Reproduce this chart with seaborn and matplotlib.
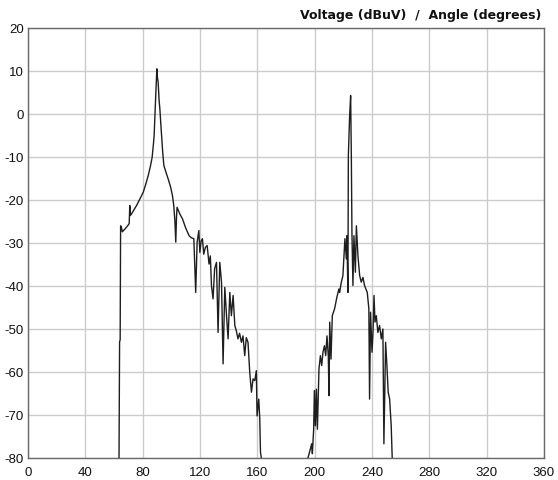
import matplotlib
matplotlib.use("Agg")
import matplotlib.pyplot as plt
import seaborn as sns
import pandas as pd

angle_deg = [63.5, 63.9, 64.3, 64.6, 65.3, 65.8, 67.5, 69.5, 70.6, 71.0, 71.5, 73.0, 75.7, 78.0,
             80.4, 82.0, 83.9, 85.5, 86.6, 87.5, 88.0, 88.6, 89.2, 89.9, 90.3, 90.8, 91.5, 92.0,
             92.6, 93.2, 94.0, 94.8, 96.5, 97.8, 99.5, 100.8, 101.7, 102.5, 103.1, 103.6, 104.0,
             106.0, 107.8, 110.0, 112.4, 114.0, 115.7, 117.0, 118.0, 119.2, 119.9, 120.8, 121.7,
             122.6, 123.8, 125.0, 126.3, 127.2, 128.0, 129.1, 130.2, 131.5, 132.6, 133.8, 135.0,
             136.1, 137.3, 138.5, 139.6, 140.8, 141.9, 143.1, 144.3, 145.4, 146.5, 147.6, 148.9,
             150.0, 151.2, 152.3, 153.5, 154.7, 155.9, 157.0, 158.2, 159.3, 159.8, 161.0, 161.7,
             162.2, 162.8,
             195.3, 197.0, 197.9, 198.4, 199.3, 199.8, 200.5, 201.2, 201.9, 203.0, 204.0, 204.9,
             205.8, 206.8, 207.7, 208.6, 209.5, 210.0, 210.5, 211.4, 212.3, 213.9, 215.5, 216.9,
             217.4, 218.6, 219.7, 221.1, 222.1, 222.5, 223.2, 223.5, 224.4, 225.1, 225.6, 226.0,
             226.7, 227.4, 228.4, 229.1, 230.2, 231.4, 232.5, 233.7, 234.8, 236.7, 237.8, 238.3,
             239.0, 240.0, 240.7, 241.4, 242.1, 243.0, 244.1, 245.3, 246.5, 247.6, 248.3, 249.5,
             250.4, 251.3, 252.3, 253.4, 254.1]
voltage_dbuv = [-80, -53, -52.5, -26, -26.5, -27.4, -26.8, -26, -25.5, -21.3, -23.6, -22.8, -21.3, -19.8,
                -18.2, -16.5, -14.3, -12, -10.1, -7, -5, 0, 5, 10.5, 8.5, 7.4, 3, 1.2,
                -2, -5, -9, -12, -13.8, -15.1, -17, -19, -21.3, -25, -29.8, -24, -21.7,
                -23.3, -24.4, -26.5, -28.3, -28.8, -29, -41.5, -29.8, -27.1, -32.2, -29.5, -29,
                -32.6, -31, -30.6, -34.9, -33, -39.9, -43, -36, -34.5, -50.8, -34.5, -39.1,
                -58.1, -40.3, -46.9, -52.3, -41.5, -46.9, -42.2, -49.2, -50.5, -52.3, -51, -53.1,
                -51.6, -56.2, -52, -53.1, -60.1, -64.7, -61.6, -62, -59.7, -70.2, -66.3, -70.9,
                -78.7, -80,
                -80, -77.9, -76.7, -79, -73.3, -64.3, -72.5, -64, -73.3, -59.3, -56.2, -58.5,
                -55.4, -53.9, -56.2, -51.6, -56.2, -65.5, -48.4, -57, -46.9, -45.3, -42.6, -40.7,
                -41.5, -39.1, -37.6, -29, -33.7, -28.3, -41.5, -9.7, -0.4, 4.3, -10.5, -27.5,
                -39.9, -28.3, -36.8, -26, -33, -37.6, -39.1, -38, -39.9, -41.5, -45.3, -66.3,
                -46.1, -55.4, -50.8, -42.2, -48.4, -46.9, -50.8, -49.2, -52.3, -50, -76.7, -53.1,
                -58.5, -64.7, -66.3, -72.5, -80]
lobe_sizes = [91, 75]  # points in first and second lobe

x_ticks = [0, 40, 80, 120, 160, 200, 240, 280, 320, 360]
y_ticks = [-80, -70, -60, -50, -40, -30, -20, -10, 0, 10, 20]
title_text = "Voltage (dBuV)  /  Angle (degrees)"

sns.set_theme(style="white")
plt.rcParams['font.family'] = ['Liberation Sans', 'DejaVu Sans']
plt.rcParams['axes.unicode_minus'] = False

lobe = [0] * lobe_sizes[0] + [1] * (len(angle_deg) - lobe_sizes[0])
df = pd.DataFrame({"angle": angle_deg, "voltage": voltage_dbuv, "lobe": lobe})

fig = plt.figure(figsize=(5.58, 4.81), dpi=100)
ax = fig.add_axes([28 / 558, 22 / 481, 516 / 558, 430 / 481])

sns.lineplot(data=df, x="angle", y="voltage", units="lobe", sort=False, estimator=None,
             color="#1e1e1e", linewidth=1.0, ax=ax)

ax.set_xlim(0, 360)
ax.set_ylim(-80, 20)
ax.set_xticks(x_ticks)
ax.set_yticks(y_ticks)
ax.grid(True, color="#cccccc", linewidth=1.0)
ax.set_axisbelow(True)
ax.set_xlabel("")
ax.set_ylabel("")
for s in ax.spines.values():
    s.set_color("#6a6a6a")
    s.set_linewidth(1.0)
ax.tick_params(axis="both", length=0, labelsize=9.5, colors="#111111")
ax.tick_params(axis="y", pad=3)
ax.tick_params(axis="x", pad=6)

fig.text(541 / 558, 1 - 15 / 481, title_text, ha="right", va="center",
         fontsize=9, fontweight="bold", color="#111111", family="DejaVu Sans")

fig.savefig("out.png", dpi=100)
